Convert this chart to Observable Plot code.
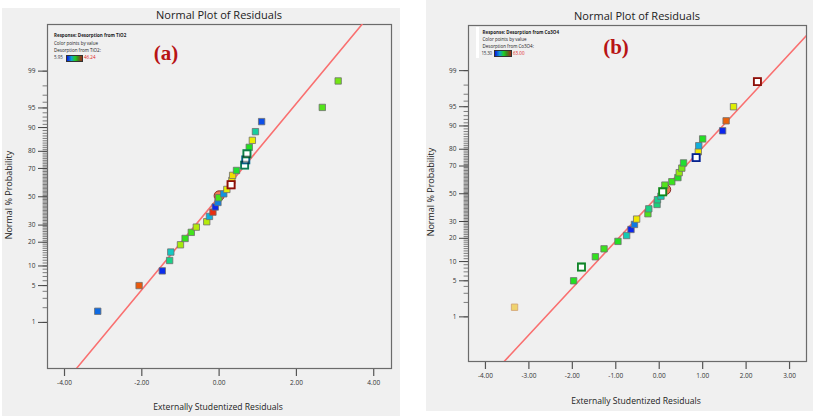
<!DOCTYPE html>
<html><head><meta charset="utf-8">
<script src="https://cdn.jsdelivr.net/npm/d3@7"></script>
<script src="https://cdn.jsdelivr.net/npm/@observablehq/plot@0.6"></script>
<style>
body{margin:0;background:#fff;}
#root{position:relative;width:813px;height:418px;overflow:hidden;background:#fff;font-family:"Open Sans",sans-serif;}
.bg{position:absolute;background:#f0f0f0;}
.t{position:absolute;white-space:nowrap;color:#222;line-height:1;}
.c{transform:translateX(-50%);}
.lg{position:absolute;white-space:nowrap;font-size:4.5px;line-height:1;color:#222;}
.ramp{position:absolute;height:5px;border:0.6px solid #333;background:linear-gradient(90deg,#0818e0,#10a0d0 30%,#20d020 55%,#3c8c20 72%,#a02818);}
.tag{position:absolute;font-family:"Liberation Serif",serif;font-weight:bold;font-size:21px;color:#b81414;transform:translate(-50%,-50%);line-height:1;}
#root svg{position:absolute;top:0;background:transparent;overflow:visible;}
</style></head><body><div id="root"></div>
<script>
// ---------- data: panel (a) TiO2 ----------
const aResid = [-3.14,-2.07,-1.47,-1.28,-1.25,-1.00,-0.88,-0.72,-0.59,-0.32,-0.25,-0.16,-0.10,-0.03,-0.01,0.00,0.12,0.20,0.31,0.33,0.35,0.45,0.66,0.69,0.72,0.78,0.86,0.94,1.10,2.67,3.08];
const aProb  = [1.7,5.0,8.5,11.9,15.3,18.7,22.0,25.5,28.7,32.2,35.8,38.8,42.5,45.8,49.3,50.7,52.2,55.4,58.8,61.9,65.4,68.7,72.1,75.3,78.7,82.0,85.2,88.6,91.8,95.1,98.4];
const aValue = [10.8,43.4,7.2,20.5,17.2,32.5,26.9,27.7,33.3,33.3,14.8,45.4,6.8,12.0,28.1,44.2,13.2,35.4,46.24,36.2,37.0,25.3,20.1,14.0,21.3,26.1,35.8,19.2,9.2,28.5,30.1];
const aKind  = ["s","s","s","s","s","s","s","s","s","s","s","s","s","s","s","c","s","s","h","s","s","s","h","h","h","s","s","s","s","s","s"];
const aFitResid = [-3.69, 3.70];
const aFitProb  = [0.074, 99.93];
const aXTicks = [-4,-2,0,2,4];
const aRange = [5.95, 46.24];

// ---------- data: panel (b) Co3O4 ----------
const bResid = [-3.33,-1.97,-1.79,-1.47,-1.27,-0.95,-0.75,-0.65,-0.57,-0.52,-0.26,-0.24,-0.05,-0.04,0.04,0.08,0.15,0.13,0.29,0.43,0.46,0.52,0.56,0.85,0.90,0.91,1.00,1.46,1.54,1.71,2.26];
const bProb  = [1.6,5.0,8.3,11.7,14.9,18.4,21.5,25.0,28.1,31.6,35.3,38.8,42.0,45.5,48.2,51.5,53.2,56.5,59.0,62.0,65.5,68.6,72.0,75.3,78.6,81.8,85.0,88.3,91.6,95.0,98.3];
const bValue = [54.0,39.2,36.8,40.1,40.6,39.2,29.6,16.3,22.0,51.6,41.5,32.5,33.4,32.0,29.6,38.2,60.6,42.0,40.6,39.2,45.8,43.9,38.2,17.7,51.6,25.8,39.2,16.3,59.2,50.1,63.0];
const bKind  = ["f","s","h","s","s","s","s","s","s","s","s","s","s","s","s","h","c","s","s","s","s","s","s","h","s","s","s","s","s","s","h"];
const bFitResid = [-3.57, 3.39];
const bFitProb  = [0.076, 99.86];
const bXTicks = [-4,-3,-2,-1,0,1,2,3];
const bRange = [15.30, 63.00];

// ---------- shared axis ----------
const probMajor = [1,5,10,20,30,50,70,80,90,95,99];
const probMinor = [1,2,3,4,5,6,7,8,9,10,11,12,13,14,15,16,17,18,19,20,21,22,23,24,25,26,27,28,29,30,31,32,33,34,35,36,37,38,39,40,41,42,43,44,45,46,47,48,49,50,51,52,53,54,55,56,57,58,59,60,61,62,63,64,65,66,67,68,69,70,71,72,73,74,75,76,77,78,79,80,81,82,83,84,85,86,87,88,89,90,91,92,93,94,95,96,97,98,99];

function probit(p){
 const a=[-3.969683028665376e+01,2.209460984245205e+02,-2.759285104469687e+02,1.383577518672690e+02,-3.066479806614716e+01,2.506628277459239e+00];
 const b=[-5.447609879822406e+01,1.615858368580409e+02,-1.556989798598866e+02,6.680131188771972e+01,-1.328068155288572e+01];
 const c=[-7.784894002430293e-03,-3.223964580411365e-01,-2.400758277161838e+00,-2.549732539343734e+00,4.374664141464968e+00,2.938163982698783e+00];
 const d=[7.784695709041462e-03,3.224671290700398e-01,2.445134137142996e+00,3.754408661907416e+00];
 const pl=0.02425, ph=1-pl; let q,r;
 if(p<pl){q=Math.sqrt(-2*Math.log(p));return (((((c[0]*q+c[1])*q+c[2])*q+c[3])*q+c[4])*q+c[5])/((((d[0]*q+d[1])*q+d[2])*q+d[3])*q+1);}
 if(p<=ph){q=p-0.5;r=q*q;return (((((a[0]*r+a[1])*r+a[2])*r+a[3])*r+a[4])*r+a[5])*q/(((((b[0]*r+b[1])*r+b[2])*r+b[3])*r+b[4])*r+1);}
 q=Math.sqrt(-2*Math.log(1-p));return -(((((c[0]*q+c[1])*q+c[2])*q+c[3])*q+c[4])*q+c[5])/((((d[0]*q+d[1])*q+d[2])*q+d[3])*q+1);
}
const ramp = d3.piecewise(d3.interpolateRgb, ["#0a18f0","#12c4d8","#22e022","#f0f000","#e81c10"]);

function panel(o){
  const pts = o.resid.map((x,i)=>({x, z: probit(o.prob[i]/100), v: o.value[i], k: o.kind[i]}));
  const fit = o.fitX.map((x,i)=>({x, z: probit(o.fitP[i]/100)}));
  const majorZ = probMajor.map(p=>probit(p/100));
  const lab = new Map(probMajor.map((p,i)=>[majorZ[i], String(p)]));
  const minor = probMinor.map(p=>({z: probit(p/100)}));
  const sq = pts.filter(d=>d.k==="s"), ho = pts.filter(d=>d.k==="h"), ci = pts.filter(d=>d.k==="c"), fa = pts.filter(d=>d.k==="f");
  const tickShape = {draw(ctx, l){ ctx.moveTo(0, 0); ctx.lineTo(0, -l); }};
  const svg = Plot.plot({
    width: o.width, height: 418,
    marginLeft: o.ml, marginRight: o.mr, marginTop: o.mt, marginBottom: o.mb,
    x: {domain: o.xDomain},
    y: {domain: o.yDomain},
    color: {type: "linear", domain: o.range, interpolate: ramp},
    style: {fontFamily: "'Open Sans', sans-serif", background: "transparent", color: "#333"},
    marks: [
      Plot.axisX({ticks: o.xTicks, tickFormat: d=>d.toFixed(2), tickSize: 8, tickPadding: 4, fontSize: 6.5, stroke: "#555", strokeWidth: 1.2, fill: "#333", label: null}),
      Plot.vector(minor, {y: "z", frameAnchor: "left", length: 4.5, rotate: -90, anchor: "start", shape: tickShape, stroke: "#4a4a4a", strokeWidth: 0.7}),
      Plot.axisY({anchor: "left", ticks: majorZ, tickSize: 9, tickPadding: 3, tickFormat: z=>lab.get(z), fontSize: 6.5, stroke: "#444", fill: "#333", label: null}),
      Plot.frame({stroke: "#6b6b6b", strokeWidth: 1.2}),
      Plot.line(fit, {x: "x", y: "z", stroke: "#f97070", strokeWidth: 1.6, clip: true}),
      Plot.dot(ci, {x: "x", y: "z", r: 5, fill: "v", fillOpacity: 0.7, stroke: "#8a2a2a", strokeWidth: 1}),
      Plot.dot(fa, {x: "x", y: "z", symbol: "square", r: 3.6, fill: "v", fillOpacity: 0.55, stroke: "#d0a070", strokeWidth: 0.8}),
      Plot.dot(sq, {x: "x", y: "z", symbol: "square", r: 3.6, fill: "v", stroke: "#6e6e6e", strokeWidth: 0.8}),
      Plot.dot(ho, {x: "x", y: "z", symbol: "square", r: 4.0, fill: "white", stroke: "v", strokeWidth: 1.8}),
      Plot.dot(ho, {x: "x", y: "z", symbol: "square", r: 4.0, fill: "none", stroke: "black", strokeOpacity: 0.4, strokeWidth: 1.8})
    ]
  });
  svg.style.left = o.left + "px";
  return svg;
}

const root = document.getElementById("root");
function add(html){ root.insertAdjacentHTML("beforeend", html); }
add('<div class="bg" style="left:2px;top:8px;width:398px;height:408px"></div>');
add('<div class="bg" style="left:426px;top:0px;width:387px;height:411px"></div>');

root.appendChild(panel({resid:aResid, prob:aProb, value:aValue, kind:aKind, fitX:aFitResid, fitP:aFitProb,
  xDomain:[-4.44,4.46], yDomain:[-3.18,3.19], xTicks:aXTicks, range:aRange, width:400, left:0, ml:47, mr:9, mt:24, mb:50}));
root.appendChild(panel({resid:bResid, prob:bProb, value:bValue, kind:bKind, fitX:bFitResid, fitP:bFitProb,
  xDomain:[-4.39,3.39], yDomain:[-3.17,3.18], xTicks:bXTicks, range:bRange, width:408, left:405, ml:63, mr:7, mt:25, mb:57}));

// titles & axis labels
add('<div class="t c" style="left:219px;top:9px;font-size:11px">Normal Plot of Residuals</div>');
add('<div class="t c" style="left:637px;top:10px;font-size:11px">Normal Plot of Residuals</div>');
add('<div class="t c" style="left:218px;top:403px;font-size:8.6px">Externally Studentized Residuals</div>');
add('<div class="t c" style="left:636px;top:397px;font-size:8.6px">Externally Studentized Residuals</div>');
add('<div class="t" style="left:8px;top:195px;font-size:9px;transform:translate(-50%,-50%) rotate(-90deg)">Normal % Probability</div>');
add('<div class="t" style="left:430px;top:192px;font-size:9px;transform:translate(-50%,-50%) rotate(-90deg)">Normal % Probability</div>');

// legends
add('<div class="lg" style="left:54px;top:33px;font-weight:bold">Response: Desorption from TiO2</div>');
add('<div class="lg" style="left:54px;top:40.5px">Color points by value</div>');
add('<div class="lg" style="left:54px;top:47.5px">Desorption from TiO2:</div>');
add('<div class="lg" style="left:54px;top:55px;color:#334">' + aRange[0].toFixed(2) + '</div>');
add('<div class="ramp" style="left:66px;top:54.5px;width:15px"></div>');
add('<div class="lg" style="left:84px;top:55px;color:#e02020">' + aRange[1].toFixed(2) + '</div>');
add('<div class="tag" style="left:166px;top:53px">(a)</div>');

add('<div style="position:absolute;left:476px;top:27px;width:3px;height:31px;background:#fff"></div>');
add('<div class="lg" style="left:482.5px;top:30.3px;font-weight:bold">Response: Desorption from Co3O4</div>');
add('<div class="lg" style="left:482.5px;top:37px">Color points by value</div>');
add('<div class="lg" style="left:482.5px;top:43.7px">Desorption from Co3O4:</div>');
add('<div class="lg" style="left:481.5px;top:50.7px;color:#334;letter-spacing:-0.2px">' + bRange[0].toFixed(2) + '</div>');
add('<div class="ramp" style="left:494px;top:50.2px;width:16px"></div>');
add('<div class="lg" style="left:513px;top:50.7px;color:#e02020">' + bRange[1].toFixed(2) + '</div>');
add('<div class="tag" style="left:616px;top:47px">(b)</div>');
</script></body></html>
